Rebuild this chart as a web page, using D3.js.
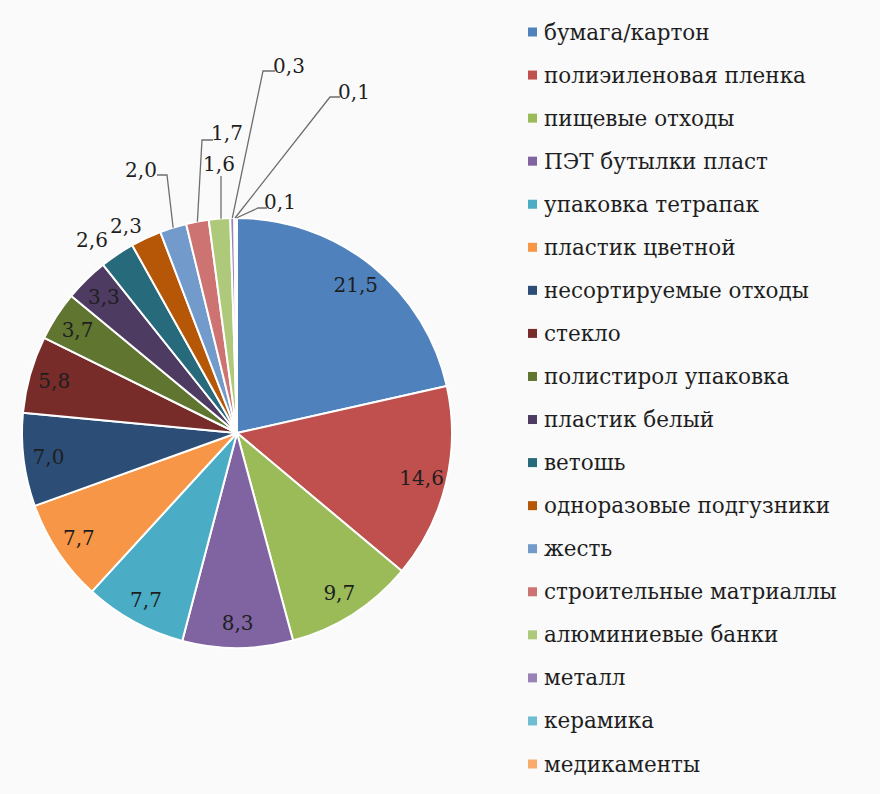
<!DOCTYPE html>
<html>
<head>
<meta charset="utf-8">
<script src="https://cdn.jsdelivr.net/npm/d3@7"></script>
<style>
  html, body { margin: 0; padding: 0; background: #fafafa; }
  svg { display: block; }
  text { font-family: "DejaVu Serif", "Liberation Serif", serif; }
</style>
</head>
<body>
<svg id="chart" width="880" height="794"></svg>
<script>
// ---- data ----
const categories = [
  "бумага/картон", "полиэиленовая пленка", "пищевые отходы", "ПЭТ бутылки пласт",
  "упаковка тетрапак", "пластик цветной", "несортируемые отходы", "стекло",
  "полистирол упаковка", "пластик белый", "ветошь", "одноразовые подгузники",
  "жесть", "строительные матриаллы", "алюминиевые банки", "металл",
  "керамика", "медикаменты"
];
const values = [21.5, 14.6, 9.7, 8.3, 7.7, 7.7, 7.0, 5.8, 3.7, 3.3, 2.6, 2.3, 2.0, 1.7, 1.6, 0.3, 0.1, 0.1];
const colors = [
  "#4F81BD", "#C0504D", "#9BBB59", "#8064A2", "#4BACC6", "#F79646",
  "#2C4D75", "#772C2A", "#5F7530", "#4D3B62", "#276A7C", "#B65708",
  "#729ACA", "#CD7371", "#AFC97A", "#9983B5", "#6FBDD1", "#F9AB6B"
];

// ---- layout (positions only) ----
const cx = 237, cy = 433, R = 215, labelR = 190;
const outerLabels = {
  "ветошь":                 { x: 92,  y: 240 },
  "одноразовые подгузники": { x: 126, y: 226 },
  "жесть":                  { x: 141, y: 170, end: [157, 175], elbow: [167, 175] },
  "строительные матриаллы": { x: 227, y: 133, end: [213, 140], elbow: [202, 140] },
  "алюминиевые банки":      { x: 219, y: 164, end: [221, 176], elbow: null },
  "металл":                 { x: 289, y: 66,  end: [275, 71],  elbow: [263, 71] },
  "керамика":               { x: 354, y: 92,  end: [340, 97],  elbow: [330, 97] },
  "медикаменты":            { x: 280, y: 202, end: [267, 208], elbow: [258, 208] }
};

const fmt = v => d3.format(".1f")(v).replace(".", ",");
const svg = d3.select("#chart");
const color = d3.scaleOrdinal().domain(categories).range(colors);

const data = categories.map((c, i) => ({ name: c, value: values[i] }));
const pie = d3.pie().sort(null).value(d => d.value);
const arcs = pie(data);
const arc = d3.arc().innerRadius(0).outerRadius(R);
const labelArc = d3.arc().innerRadius(labelR).outerRadius(labelR);
const edgeArc = d3.arc().innerRadius(R).outerRadius(R);

const g = svg.append("g").attr("transform", `translate(${cx},${cy})`);

g.selectAll("path.slice").data(arcs).join("path")
  .attr("class", "slice")
  .attr("d", arc)
  .attr("fill", d => color(d.data.name))
  .attr("stroke", "#ffffff")
  .attr("stroke-width", 2)
  .attr("stroke-linejoin", "round");

// inside labels
g.selectAll("text.inlabel").data(arcs.filter(d => !outerLabels[d.data.name])).join("text")
  .attr("class", "inlabel")
  .attr("x", d => labelArc.centroid(d)[0])
  .attr("y", d => labelArc.centroid(d)[1])
  .attr("dy", "0.35em")
  .attr("text-anchor", "middle")
  .attr("font-size", 20)
  .attr("fill", "#1e1e1e")
  .text(d => fmt(d.data.value));

// outside labels with leader lines
const outer = arcs.filter(d => outerLabels[d.data.name]);
svg.selectAll("path.leader").data(outer.filter(d => outerLabels[d.data.name].end)).join("path")
  .attr("class", "leader")
  .attr("d", d => {
    const L = outerLabels[d.data.name];
    const p = edgeArc.centroid(d);
    const start = [cx + p[0], cy + p[1]];
    const pts = [L.end];
    if (L.elbow) pts.push(L.elbow, start);
    else pts.push([L.end[0], start[1]]);
    return d3.line()(pts);
  })
  .attr("fill", "none")
  .attr("stroke", "#6e6e6e")
  .attr("stroke-width", 1.3);

svg.selectAll("text.outlabel").data(outer).join("text")
  .attr("class", "outlabel")
  .attr("x", d => outerLabels[d.data.name].x)
  .attr("y", d => outerLabels[d.data.name].y)
  .attr("dy", "0.35em")
  .attr("text-anchor", "middle")
  .attr("font-size", 20)
  .attr("fill", "#1e1e1e")
  .text(d => fmt(d.data.value));

// legend
const ly = d3.scalePoint().domain(categories).range([32, 764]);
const leg = svg.append("g").selectAll("g").data(categories).join("g")
  .attr("transform", d => `translate(528,${ly(d)})`);
leg.append("rect")
  .attr("x", 0).attr("y", -4.5).attr("width", 9).attr("height", 9)
  .attr("fill", d => color(d));
leg.append("text")
  .attr("x", 16).attr("y", 0).attr("dy", "0.35em")
  .attr("font-size", 21.5)
  .attr("fill", "#1e1e1e")
  .text(d => d);
</script>
</body>
</html>
